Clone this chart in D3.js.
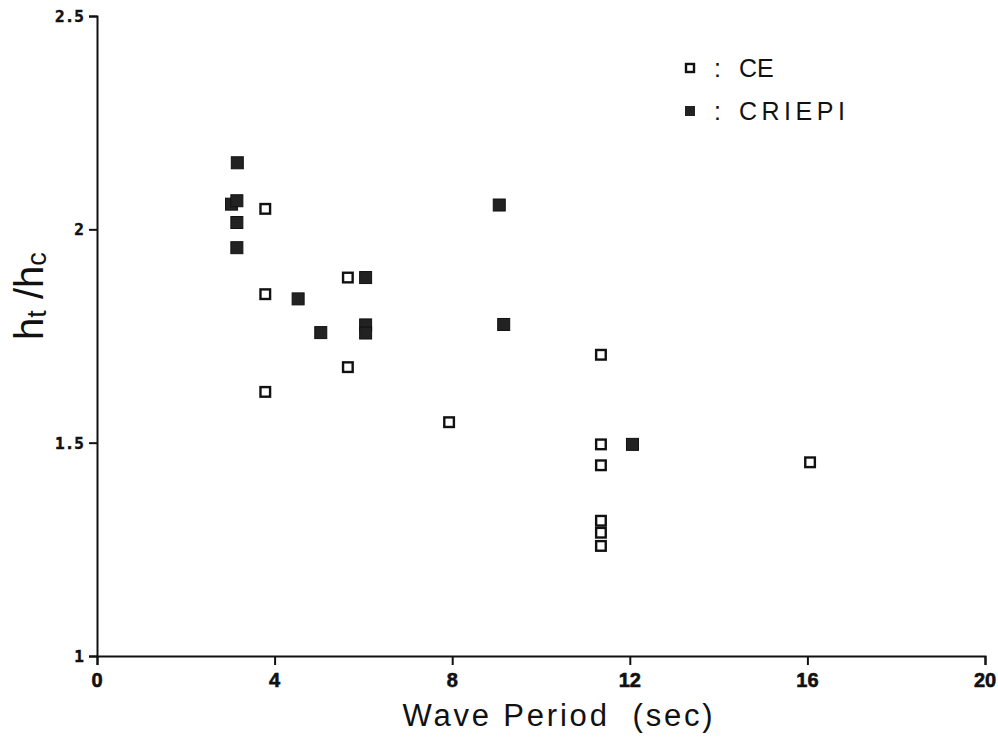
<!DOCTYPE html>
<html>
<head>
<meta charset="utf-8">
<script src="https://cdn.jsdelivr.net/npm/d3@7"></script>
<style>
  html, body { margin: 0; padding: 0; background: #fff; }
  svg { display: block; }
  .xt { font-family: 'Liberation Sans Narrow', 'Liberation Sans', sans-serif; font-weight: bold; font-size: 20px; fill: #111; stroke: #111; stroke-width: 0.6px; }
  .yt { font-family: 'DejaVu Sans Mono', monospace; font-weight: bold; font-size: 16px; fill: #111; stroke: #111; stroke-width: 0.5px; }
</style>
</head>
<body>
<svg id="chart" width="998" height="747"></svg>
<script>
// ---- data ----
const ceX      = [3.79, 3.79, 3.79, 5.65, 5.65, 7.93, 11.35, 11.35, 11.35, 11.35, 11.35, 11.35, 16.06];
const ceY      = [2.048, 1.848, 1.619, 1.887, 1.677, 1.548, 1.706, 1.496, 1.447, 1.317, 1.289, 1.258, 1.454];
const criepiX  = [3.16, 3.03, 3.15, 3.15, 3.15, 6.05, 4.53, 5.04, 6.05, 6.05, 9.06, 9.16, 12.06];
const criepiY  = [2.156, 2.059, 2.067, 2.016, 1.957, 1.887, 1.837, 1.758, 1.776, 1.757, 2.057, 1.777, 1.496];
const xTicks   = [0, 4, 8, 12, 16, 20];
const yTicks   = [1, 1.5, 2, 2.5];
const yTickLabels = ["1", "1.5", "2", "2.5"];
const legendLabels = ["CE", "CRIEPI"];

const svg = d3.select("#chart");
const x = d3.scaleLinear().domain([0, 20]).range([97, 985]);
const y = d3.scaleLinear().domain([1, 2.5]).range([656, 16]);

// x axis (lines from d3.axis, labels drawn with the same scale)
const gx = svg.append("g").attr("transform", `translate(0,${y(1)})`)
  .call(d3.axisBottom(x).tickValues(xTicks).tickSize(9).tickFormat(""));
gx.select(".domain").attr("stroke", "#111").attr("stroke-width", 2);
gx.selectAll(".tick line").attr("stroke", "#111").attr("stroke-width", 2);
svg.append("g").selectAll("text").data(xTicks).join("text")
  .attr("class", "xt")
  .attr("x", d => x(d)).attr("y", y(1) + 31)
  .attr("text-anchor", "middle")
  .text(d => d3.format("d")(d));

// y axis
const gy = svg.append("g").attr("transform", `translate(${x(0)},0)`)
  .call(d3.axisLeft(y).tickValues(yTicks).tickSize(8).tickFormat(""));
gy.select(".domain").attr("stroke", "#111").attr("stroke-width", 2);
gy.selectAll(".tick line").attr("stroke", "#111").attr("stroke-width", 2);
svg.append("g").selectAll("text").data(yTicks).join("text")
  .attr("class", "yt")
  .attr("x", x(0) - 13).attr("y", d => y(d) + 6)
  .attr("text-anchor", "end")
  .text((d, i) => yTickLabels[i]);

// axis titles
svg.append("text")
  .attr("x", 559).attr("y", 726)
  .attr("text-anchor", "middle")
  .style("font-family", "'Liberation Sans', sans-serif")
  .style("font-size", "31px").style("letter-spacing", "2.8px").style("white-space", "pre")
  .attr("fill", "#111")
  .text("Wave Period  (sec)");

const yt = svg.append("text")
  .attr("transform", "translate(43,296) rotate(-90)")
  .attr("text-anchor", "middle")
  .style("font-family", "'Liberation Sans', sans-serif")
  .style("font-size", "40px").style("white-space", "pre").attr("fill", "#111");
yt.append("tspan").text("h");
yt.append("tspan").style("font-size", "27px").attr("dy", 3).text("t");
yt.append("tspan").attr("dy", -3).text(" /h");
yt.append("tspan").style("font-size", "27px").attr("dy", 3).text("c");

// markers
const S = 12;
const ce = ceX.map((v, i) => ({ x: v, y: ceY[i] }));
const cr = criepiX.map((v, i) => ({ x: v, y: criepiY[i] }));

svg.append("g").selectAll("rect").data(cr).join("rect")
  .attr("x", d => x(d.x) - S / 2).attr("y", d => y(d.y) - S / 2)
  .attr("width", S).attr("height", S)
  .attr("fill", "#222").attr("stroke", "#111").attr("stroke-width", 1);

svg.append("g").selectAll("rect").data(ce).join("rect")
  .attr("x", d => x(d.x) - S / 2 + 1.2).attr("y", d => y(d.y) - S / 2 + 1.2)
  .attr("width", S - 2.4).attr("height", S - 2.4)
  .attr("fill", "#fff").attr("stroke", "#111").attr("stroke-width", 2.4);

// legend
const lg = svg.append("g");
legendLabels.forEach((lab, i) => {
  const cy = 68 + i * 43;
  if (i === 0) {
    lg.append("rect").attr("x", 686).attr("y", cy - 4).attr("width", 8).attr("height", 8)
      .attr("fill", "#fff").attr("stroke", "#111").attr("stroke-width", 2.4);
  } else {
    lg.append("rect").attr("x", 685).attr("y", cy - 5).attr("width", 10).attr("height", 10)
      .attr("fill", "#222");
  }
  lg.append("text").attr("x", 714).attr("y", cy + 9)
    .style("font-family", "'Liberation Sans', sans-serif").style("font-size", "25px").attr("fill", "#111")
    .text(":");
  lg.append("text").attr("x", 739).attr("y", cy + 9)
    .style("font-family", "'Liberation Sans', sans-serif").style("font-size", "25px").attr("fill", "#111")
    .style("letter-spacing", i === 0 ? "0px" : "4.5px")
    .text(lab);
});
</script>
</body>
</html>
